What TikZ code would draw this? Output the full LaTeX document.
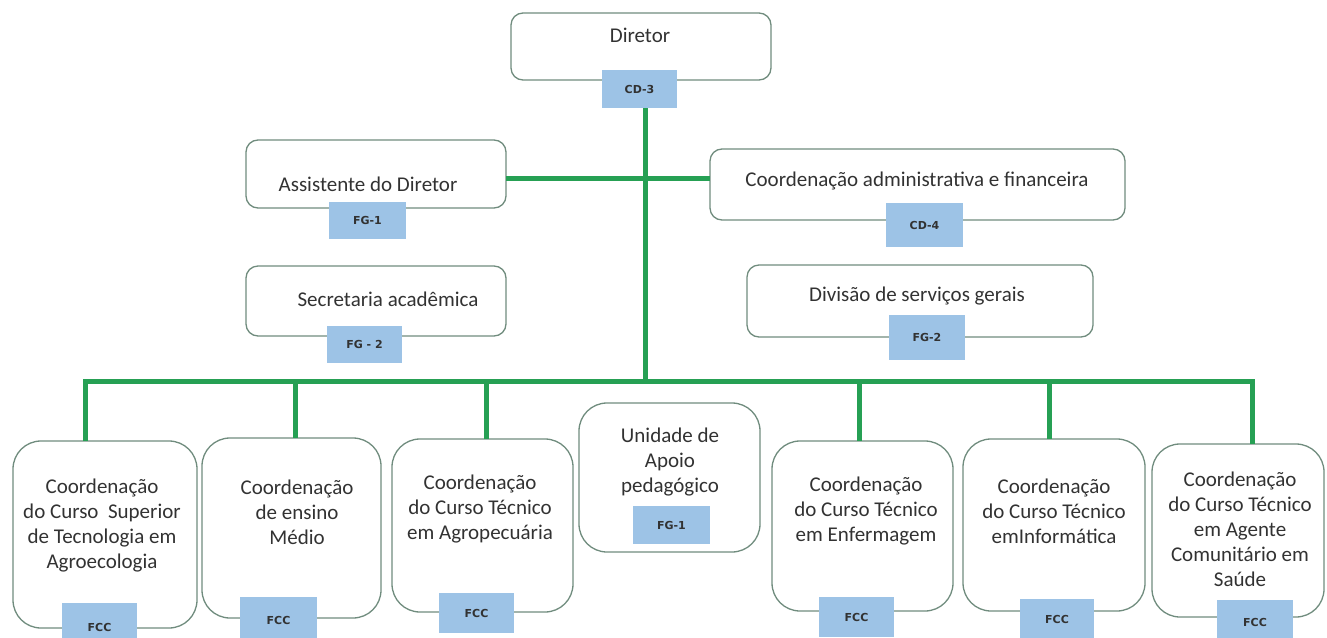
\documentclass[tikz,border=0pt]{standalone}
\usepackage{fontspec}
\setmainfont{Carlito}
\newfontfamily\badgefont{DejaVu Sans}
\definecolor{boxc}{RGB}{112,140,126}
\definecolor{connc}{RGB}{38,160,84}
\definecolor{badgec}{RGB}{157,195,230}
\definecolor{txtc}{RGB}{50,50,50}
\begin{document}
\begin{tikzpicture}[x=1pt,y=-1pt,
  box/.style={draw=boxc, line width=1.3pt, rounded corners=12pt, anchor=north west, inner sep=0pt, outer sep=0pt},
  bbox/.style={box, rounded corners=28pt},
  badge/.style={fill=badgec, anchor=north west, inner sep=0pt, outer sep=0pt, text=txtc, font=\badgefont\bfseries\fontsize{11}{13}\selectfont},
  lbl/.style={text=txtc, align=center, inner sep=0pt, font=\fontsize{21}{25}\selectfont},
  conn/.style={draw=connc, line width=5pt, line join=miter}]
\useasboundingbox (0,0) rectangle (1327,637);
% boxes
\node[box, minimum width=260, minimum height=67] (dir) at (511,13) {};
\node[box, minimum width=260, minimum height=68] (asst) at (246,140) {};
\node[box, minimum width=260, minimum height=70] (secr) at (246,266) {};
\node[box, minimum width=415, minimum height=71] (adm) at (710,149) {};
\node[box, minimum width=346, minimum height=72] (div) at (747,265) {};
\node[bbox, minimum width=184, minimum height=187] (b1) at (13,441) {};
\node[bbox, minimum width=179, minimum height=180] (b2) at (202,438) {};
\node[bbox, minimum width=181, minimum height=173] (b3) at (392,439) {};
\node[bbox, minimum width=181, minimum height=149] (unid) at (579,403) {};
\node[bbox, minimum width=181, minimum height=170] (b5) at (772,441) {};
\node[bbox, minimum width=182, minimum height=172] (b6) at (963,439) {};
\node[bbox, minimum width=172, minimum height=173] (b7) at (1152,444) {};
% texts
\node[lbl] (dirt) at (640,35) {Diretor};
\node[lbl] (asstt) at (368,184) {Assistente do Diretor};
\node[lbl] (secrt) at (388,299) {Secretaria acadêmica};
\node[lbl] (admt) at (917,181) {Coordenação administrativa e financeira};
\node[lbl] (divt) at (917,296) {Divisão de serviços gerais};
\node[lbl] (b1t) at (102,526) {Coordenação\\do Curso\ \ Superior\\de Tecnologia em\\Agroecologia};
\node[lbl] (b2t) at (297,512) {Coordenação\\de ensino\\Médio};
\node[lbl] (b3t) at (480,509) {Coordenação\\do Curso Técnico\\em Agropecuária};
\node[lbl] (unidt) at (670,462) {Unidade de\\Apoio\\pedagógico};
\node[lbl] (b5t) at (866,511) {Coordenação\\do Curso Técnico\\em Enfermagem};
\node[lbl] (b6t) at (1054,511) {Coordenação\\do Curso Técnico\\emInformática};
\node[lbl] (b7t) at (1240,529) {Coordenação\\do Curso Técnico\\em Agente\\Comunitário em\\Saúde};
% badges
\node[badge, minimum width=75, minimum height=38] (cd3) at (602,70) {CD-3};
\node[badge, minimum width=77, minimum height=37] (fg1a) at (329,202) {FG-1};
\node[badge, minimum width=77, minimum height=44] (cd4) at (886,203) {CD-4};
\node[badge, minimum width=76, minimum height=45] (fg2d) at (889,315) {FG-2};
\node[badge, minimum width=75, minimum height=37] (fg2s) at (327,326) {FG - 2};
\node[badge, minimum width=77, minimum height=38] (fg1u) at (633,506) {FG-1};
\node[badge, minimum width=75, minimum height=48] (f1) at (62,603) {FCC};
\node[badge, minimum width=77, minimum height=46] (f2) at (240,597) {FCC};
\node[badge, minimum width=75, minimum height=40] (f3) at (439,593) {FCC};
\node[badge, minimum width=75, minimum height=40] (f5) at (819,597) {FCC};
\node[badge, minimum width=74, minimum height=40] (f6) at (1020,599) {FCC};
\node[badge, minimum width=76, minimum height=44] (f7) at (1217,600) {FCC};
% connectors
\coordinate (bus) at (645,381);
\coordinate (hy) at (645,178);
\coordinate (d1) at (85,381);
\coordinate (d2) at (295,381);
\coordinate (d3) at (486,381);
\coordinate (d5) at (859,381);
\coordinate (d6) at (1049,381);
\coordinate (d7) at (1252,381);
\draw[conn] (bus |- cd3.south) -- (bus);
\draw[conn] (asst.east |- hy) -- (adm.west |- hy);
\draw[conn] (b1.north -| d1) -- (d1) -- (d7) -- (b7.north -| d7);
\draw[conn] (d2) -- (b2.north -| d2);
\draw[conn] (d3) -- (b3.north -| d3);
\draw[conn] (d5) -- (b5.north -| d5);
\draw[conn] (d6) -- (b6.north -| d6);
\end{tikzpicture}
\end{document}
